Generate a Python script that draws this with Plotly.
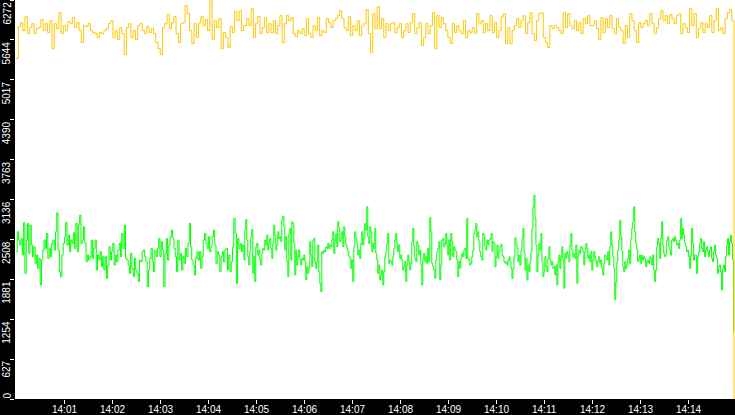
import plotly.graph_objects as go
import pandas as pd

day = "2024-01-01 "

# yellow series in three pieces (left, middle, right)
yellow_a = [5352, 5854, 5916, 5791, 6010, 5744, 5838, 5900, 5744, 5822, 5838, 5963, 5791, 5900, 5760, 5947, 5508, 5900, 5822, 6073,
            5744, 5869, 5791, 5932, 5900, 5994, 5838, 5916, 5791, 5603, 5869, 5854, 5900, 5791, 5760, 5744, 5681, 5760, 5744, 5791,
            5822, 5900, 5947, 5681, 5791, 5650, 5838, 5744, 5414, 5838, 5900, 5681, 5791, 5650, 5869, 5900, 5791, 5744, 5854, 5760,
            5822, 5744, 5603, 5508, 5414, 5838, 5900, 6041, 5822, 5916, 6010, 5744, 5603, 5900, 5916, 6183, 6057, 5791, 5587, 5900,
            5681, 5916, 6010, 5869, 5963, 5791, 6272, 5650, 5947, 5838, 5979, 5508, 5760, 5681, 5524, 5854, 5760, 6089, 5947, 6104,
            5791, 5869]
yellow_b = [5979, 5869, 6136, 5681, 5900, 6010, 5744, 5838, 5994, 5760, 5900, 5760, 5947, 5744, 5869, 6026, 5603, 5900, 6026, 5947,
            5994, 5744, 5697, 5791, 5744, 5822, 5712, 5979, 5744, 5681, 5869, 5791, 5994, 5712, 5791, 5760, 5979, 5916, 5838, 5947,
            5979, 6026, 6104, 5979, 5838, 5791, 6010, 5712, 5869, 5791, 5947, 5712, 5869, 5900, 6120, 5744, 5446, 6057, 5822, 6167,
            5822, 5979, 5681, 5900, 5791, 5900, 5916, 5760, 5838, 5900, 5681, 5791, 5900, 5760, 5916, 6057, 5744, 5838, 5916, 5555,
            5681, 5900, 5744, 5869, 6073, 5508, 6026, 5838, 5994, 5900, 5791, 5681, 5587, 5900, 5760, 5869, 5791, 5744, 5947, 5681,
            5791, 5760, 5838, 5744, 6057, 5900, 5947, 5760, 5900, 5791]
yellow_c = [6026, 5760, 5916, 5681, 5791, 6010, 6057, 5587, 5838, 5587, 5791, 5869, 5979, 5838, 5947, 6026, 5744, 5916, 6073, 5744,
            5634, 5947, 6057, 6073, 5681, 5603, 5524, 5869, 5822, 5869, 5838, 5791, 5744, 6073, 5838, 6057, 5869, 5822, 5947, 5791,
            5916, 5744, 5979, 5900, 6026, 5869, 5869, 5947, 5822, 5650, 5994, 5760, 5979, 5838, 6026, 5822, 5744, 5979, 5838, 5791,
            5587, 5869, 5681, 6057, 5947, 5791, 5603, 5916, 5838, 5900, 5947, 5869, 6057, 5900, 5744, 5838, 5979, 6104, 5947, 6026,
            5900, 6041, 5979, 5900, 6026, 6057, 5744, 5900, 5838, 5760, 6136, 5869, 6057, 5681, 5822, 5916, 5760, 5900, 5838, 6026,
            5760, 5947, 6136, 5791, 5838, 5744, 5979, 6073, 6120, 5947, 0]
yellow_spans = [("14:00:00", "14:04:44.6"), ("14:04:48.4", "14:09:49.6"), ("14:09:52.5", "14:14:57.5")]

# green series, same three pieces
green_a = [2315, 2629, 2498, 2420, 2524, 2263, 2770, 1975, 2498, 2759, 2289, 2733, 2420, 2237, 2393, 2132, 2263, 2054, 2210, 1792,
           2184, 2341, 2498, 2367, 2602, 2210, 2367, 2237, 2446, 2498, 2341, 2629, 2927, 2341, 2001, 1923, 2263, 2446, 2550, 2775,
           2420, 2576, 2315, 2498, 2446, 2613, 2367, 2759, 2315, 2733, 2890, 2446, 2498, 2707, 2446, 2158, 2263, 2184, 2237, 2498,
           2210, 2367, 2498, 2028, 2263, 2184, 2315, 2080, 2237, 2028, 2237, 1897, 2106, 2393, 2184, 2315, 2446, 2106, 2263, 2158,
           2341, 2446, 2237, 2602, 2367, 2733, 2210, 2184, 2106, 1975, 2289, 2054, 1923, 2210, 2028, 1975, 1845, 2184, 2158, 2315,
           2341, 2237, 2158, 1766, 2028, 2210, 2367, 2158, 2001, 2341, 2237, 2367, 2524, 2237, 2472, 2341, 1766, 2289, 2524, 2184,
           2420, 2550, 2655, 2524, 2367, 2237, 2001, 2498, 2184, 2289, 2028, 2237, 2132, 2367, 2237, 2446, 2759, 2393, 2184, 2106,
           1949, 2210, 2315, 2184, 2315, 2054, 2237, 2498, 2602, 2446, 2367, 2550, 2315, 2393, 2550, 2655, 2420, 2132, 2315, 2263,
           2001, 2237, 2315, 2158, 2341, 2367, 2028, 2263, 2001, 2158, 2393, 2838, 2602, 1818, 2524, 2367, 2446, 2315, 2420, 2184]
green_b = [2655, 2822, 2498, 2237, 2106, 2341, 2550, 2665, 1975, 2237, 1845, 2393, 2446, 2263, 2341, 2184, 2106, 2289, 2367, 2341,
           2498, 2420, 2576, 2341, 2446, 2524, 2367, 2210, 2446, 2733, 2576, 2341, 2420, 2629, 2524, 2550, 2472, 2812, 2874, 2707,
           2341, 2550, 2158, 1923, 2602, 2681, 2184, 2785, 2759, 2446, 1949, 2341, 2106, 2237, 2341, 2184, 2106, 2210, 2184, 2263,
           2158, 1871, 2080, 1975, 2054, 2472, 2263, 2080, 2498, 2524, 2158, 2054, 2158, 2420, 2001, 1818, 1688, 2315, 2289, 2341,
           2315, 2393, 2367, 2446, 2367, 2420, 2393, 2498, 2629, 2289, 2498, 2602, 2393, 2785, 2681, 2472, 2524, 2629, 2393, 2707,
           2550, 2420, 2367, 2315, 2237, 2210, 2054, 2184, 1845, 2393, 2629, 2524, 2446, 2263, 2341, 2210, 2446, 2629, 2420, 2524,
           2759, 2655, 3021, 2550, 2446, 2707, 2629, 2315, 2446, 2367, 2681, 2289, 2184, 1975, 2106, 1871, 1949, 2028, 1792, 2001,
           2237, 2315, 2446, 2602, 2132, 2184, 2158, 2106, 2237, 2367, 2498, 2602, 2446, 2315, 2420, 2210, 2263, 2184, 2028, 2080,
           2158, 1845, 2106, 2263, 2158, 2028, 2132, 2472, 2681, 2393, 2210, 2158, 2472, 2420, 2263, 2341, 2106, 1792, 2210, 2289,
           2158, 2237, 2132, 2367, 2158, 2853, 2629, 2132, 2080, 2028, 1897, 2184, 2315, 2367, 2472, 1871, 2106, 2498, 2524, 2393,
           2446, 2602, 2420, 2263, 2498, 2184, 2602, 2472, 2237, 2393, 2341, 2315, 2184, 1923, 2158, 2054, 2210, 2289, 2237, 2341,
           2367, 2210, 2838, 2210, 2184, 2106, 2132, 2237, 2341, 2602, 2655, 2759, 2550, 2629, 2472, 2315, 2237, 2184, 2602, 2576,
           2393, 2341, 2498, 2420, 2498]
green_c = [2524, 2602, 2315, 2471, 2445, 2079, 2236, 2419, 2210, 2315, 2393, 2430, 2262, 2236, 2158, 2132, 2158, 2106, 2184, 2236,
           2158, 2053, 1896, 2053, 2236, 2534, 2445, 2367, 2158, 2262, 2106, 2341, 2524, 2680, 2315, 2027, 2210, 1870, 2106, 2001,
           2158, 2315, 2680, 3020, 3203, 2837, 2419, 2001, 2262, 2445, 2341, 2602, 2158, 1923, 2001, 2236, 2079, 2001, 2210, 2393,
           2184, 2106, 2158, 2053, 2079, 1949, 2106, 1792, 2158, 2262, 2053, 2236, 2393, 2184, 1740, 2288, 2210, 2315, 2262, 2158,
           2419, 2602, 2341, 2236, 2288, 2210, 2419, 1818, 2236, 2341, 2288, 2393, 2367, 2315, 2106, 2315, 2445, 2367, 2210, 2262,
           2158, 2315, 2027, 2184, 2315, 2236, 2158, 2079, 2184, 2236, 2132, 2184, 2053, 1949, 2132, 2262, 2236, 2184, 2315, 2106,
           2393, 2628, 2419, 2236, 2053, 1557, 1844, 2158, 2341, 2498, 2811, 2550, 2315, 2079, 2001, 2158, 2053, 2106, 2210, 2341,
           2132, 2524, 2680, 2785, 3020, 2628, 2445, 2341, 2158, 2210, 2262, 2132, 2262, 2184, 2236, 2210, 2079, 2158, 2184, 2132,
           2236, 2210, 2106, 2262, 2027, 1844, 2027, 2393, 2524, 2445, 2210, 2524, 2785, 2419, 2288, 2236, 2262, 2498, 2550, 2393,
           2341, 2262, 2498, 2524, 2471, 2550, 2498, 2419, 2445, 2367, 2498, 2837, 2524, 2680, 2576, 2445, 2393, 2315, 2341, 2236,
           2053, 2262, 2680, 2445, 2184, 2262, 2262, 1975, 2236, 2315, 2445, 2524, 2367, 2315, 2471, 2236, 2341, 2393, 2315, 2236,
           2341, 2393, 2210, 2158, 2315, 2419, 2262, 2210, 1975, 2079, 2106, 2001, 1713, 2053, 2106, 2001, 2236, 2419, 2524, 2262,
           2471, 2576, 2445, 2184, 1060]
green_spans = [("14:00:00", "14:04:45"), ("14:04:46", "14:09:51"), ("14:09:52.5", "14:14:57")]

# y axis ticks: max/10 steps, labels cut to whole numbers
y_ticks = [0, 627.2, 1254.4, 1881.6, 2508.8, 3136, 3763.2, 4390.4, 5017.6, 5644.8, 6272]
y_labels = ["0", "627", "1254", "1881", "2508", "3136", "3763", "4390", "5017", "5644", "6272"]

# x axis: one tick per minute, 14:00 itself has none
x_labels = ["14:01", "14:02", "14:03", "14:04", "14:05", "14:06", "14:07",
            "14:08", "14:09", "14:10", "14:11", "14:12", "14:13", "14:14"]


def series(pieces, spans):
    xs, ys = [], []
    for vals, (t0, t1) in zip(pieces, spans):
        xs += list(pd.date_range(day + t0, day + t1, periods=len(vals)))
        ys += vals
    return xs, ys


gx, gy = series([green_a, green_b, green_c], green_spans)
yx, yy = series([yellow_a, yellow_b, yellow_c], yellow_spans)

fig = go.Figure()
fig.add_trace(go.Scatter(x=gx, y=gy, mode="lines", line=dict(color="#00ff00", width=1, shape="hv")))
fig.add_trace(go.Scatter(x=yx, y=yy, mode="lines", line=dict(color="#ffc800", width=1, shape="hv")))

font = dict(family="Liberation Sans", size=10, color="white")

# rotated y labels sit just under their tick
for v, lab in zip(y_ticks, y_labels):
    fig.add_annotation(x=0, xref="paper", y=v, yref="y", text=lab, showarrow=False, textangle=-90,
                       xanchor="center", xshift=-8.5, yanchor="bottom" if v == 0 else "top",
                       yshift=0 if v == 0 else -1.5, borderpad=0, borderwidth=0, font=font)

# time labels squeezed into the thin band under the plot
for lab in x_labels:
    fig.add_annotation(x=day + lab, xref="x", y=0, yref="paper", text=lab, showarrow=False,
                       xanchor="center", yanchor="top", yshift=-5, borderpad=0, borderwidth=0, font=font)

fig.update_layout(
    width=735, height=415,
    margin=dict(l=15, r=0, t=0, b=16),
    paper_bgcolor="black", plot_bgcolor="white",
    showlegend=False,
    xaxis=dict(type="date", range=[day + "13:59:58.75", day + "14:14:58.75"],
               tickvals=[day + lab for lab in x_labels], showticklabels=False,
               ticks="outside", ticklen=4, tickcolor="white", tickwidth=1,
               showgrid=False, zeroline=False, showline=False),
    yaxis=dict(range=[0, 6272], tickvals=y_ticks, showticklabels=False,
               ticks="outside", ticklen=4, tickcolor="white", tickwidth=1,
               showgrid=False, zeroline=False, showline=False),
)

# the page's default body margin would push the chart 8px in
fig.write_html("out.html", config={"displayModeBar": False},
               post_script="document.body.style.margin='0';document.body.style.background='black';")
